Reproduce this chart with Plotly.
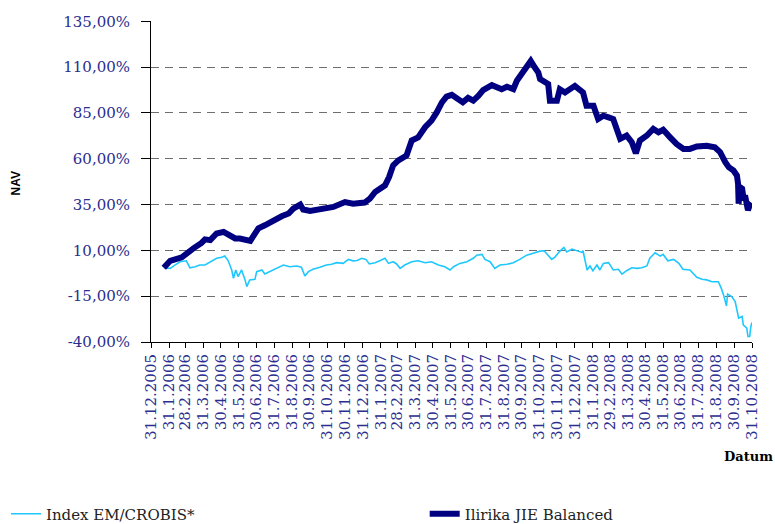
import pandas as pd
import plotly.graph_objects as go

# ---- data ----
ilirika_dates = [
    "2006-01-22", "2006-02-02", "2006-02-22", "2006-03-02", "2006-03-14", "2006-03-28",
    "2006-04-03", "2006-04-12", "2006-04-23", "2006-05-05", "2006-05-13", "2006-05-25",
    "2006-06-02", "2006-06-14", "2006-06-20", "2006-06-28", "2006-07-04", "2006-07-15",
    "2006-07-30", "2006-08-13", "2006-08-25", "2006-09-02", "2006-09-14", "2006-09-19",
    "2006-10-01", "2006-10-18", "2006-11-10", "2006-11-30", "2006-12-14", "2007-01-03",
    "2007-01-12", "2007-01-21", "2007-01-29", "2007-02-07", "2007-02-14", "2007-02-21",
    "2007-03-02", "2007-03-16", "2007-03-25", "2007-04-05", "2007-04-17", "2007-04-28",
    "2007-05-07", "2007-05-16", "2007-05-24", "2007-06-02", "2007-06-10", "2007-06-21",
    "2007-06-30", "2007-07-09", "2007-07-18", "2007-07-26", "2007-08-10", "2007-08-18",
    "2007-08-27", "2007-09-05", "2007-09-16", "2007-09-22", "2007-09-30", "2007-10-09",
    "2007-10-16", "2007-10-23", "2007-10-29", "2007-11-01", "2007-11-15", "2007-11-18",
    "2007-11-30", "2007-12-05", "2007-12-14", "2007-12-31", "2008-01-09", "2008-01-14",
    "2008-01-20", "2008-02-01", "2008-02-09", "2008-02-18", "2008-02-27", "2008-03-06",
    "2008-03-12", "2008-03-18", "2008-03-29", "2008-04-07", "2008-04-14", "2008-04-21",
    "2008-05-03", "2008-05-14", "2008-05-23", "2008-05-31", "2008-06-12", "2008-06-23",
    "2008-07-05", "2008-07-16", "2008-07-28", "2008-08-14", "2008-08-28", "2008-09-06",
    "2008-09-15", "2008-09-21", "2008-09-29", "2008-10-05", "2008-10-07", "2008-10-08",
    "2008-10-10", "2008-10-14", "2008-10-17", "2008-10-19", "2008-10-24", "2008-10-27",
    "2008-10-31",
]
ilirika_values = [
    0.5, 4.3, 6.2, 8.4, 11.1, 14.1,
    16.0, 15.6, 19.2, 20.1, 18.9, 16.5,
    16.5, 15.6, 15.2, 19.2, 22.0, 23.7,
    26.5, 28.6, 30.1, 32.8, 35.0, 32.3,
    31.5, 32.3, 33.7, 36.4, 35.5, 36.1,
    38.3, 41.9, 43.7, 45.5, 50.0, 56.4,
    59.1, 61.8, 70.0, 71.7, 77.2, 80.8,
    85.3, 90.8, 93.9, 94.9, 93.2, 90.8,
    93.2, 91.7, 94.4, 97.5, 100.2, 98.9,
    98.0, 99.3, 98.0, 102.6, 106.2, 108.9,
    113.4, 109.8, 107.1, 103.5, 100.8, 91.7,
    91.7, 98.0, 96.2, 99.8, 98.0, 96.2,
    89.0, 89.0, 81.7, 83.5, 82.6, 81.7,
    76.3, 70.9, 72.7, 69.0, 63.0, 70.0,
    72.7, 76.3, 74.5, 75.8, 71.7, 68.1,
    65.4, 65.4, 66.7, 67.1, 66.3, 63.6,
    58.2, 55.4, 53.6, 50.9, 46.4, 35.5,
    44.6, 43.7, 37.3, 40.0, 31.9, 34.6,
    33.5,
]

index_dates = [
    "2006-01-22", "2006-02-02", "2006-02-10", "2006-02-19", "2006-03-02", "2006-03-08",
    "2006-03-17", "2006-03-25", "2006-04-03", "2006-04-12", "2006-04-23", "2006-05-02",
    "2006-05-07", "2006-05-13", "2006-05-19", "2006-05-22", "2006-05-26", "2006-05-30",
    "2006-06-05", "2006-06-11", "2006-06-14", "2006-06-19", "2006-06-28", "2006-07-01",
    "2006-07-10", "2006-07-15", "2006-07-24", "2006-08-04", "2006-08-16", "2006-08-27",
    "2006-09-08", "2006-09-16", "2006-09-22", "2006-09-28", "2006-10-06", "2006-10-18",
    "2006-10-29", "2006-11-07", "2006-11-16", "2006-11-27", "2006-12-06", "2006-12-14",
    "2006-12-21", "2006-12-29", "2007-01-05", "2007-01-11", "2007-01-21", "2007-01-29",
    "2007-02-07", "2007-02-13", "2007-02-21", "2007-02-27", "2007-03-05", "2007-03-13",
    "2007-03-25", "2007-04-05", "2007-04-17", "2007-04-28", "2007-05-10", "2007-05-21",
    "2007-05-30", "2007-06-05", "2007-06-16", "2007-06-28", "2007-07-09", "2007-07-15",
    "2007-07-24", "2007-07-29", "2007-08-07", "2007-08-15", "2007-08-24", "2007-09-05",
    "2007-09-16", "2007-09-27", "2007-10-09", "2007-10-20", "2007-11-01", "2007-11-08",
    "2007-11-12", "2007-11-21", "2007-11-27", "2007-12-04", "2007-12-12", "2007-12-17",
    "2007-12-26", "2008-01-03", "2008-01-12", "2008-01-14", "2008-01-17", "2008-01-21",
    "2008-01-26", "2008-01-31", "2008-02-07", "2008-02-12", "2008-02-18", "2008-02-27",
    "2008-03-06", "2008-03-15", "2008-03-21", "2008-03-29", "2008-04-07", "2008-04-16",
    "2008-04-24", "2008-05-03", "2008-05-08", "2008-05-17", "2008-05-26", "2008-05-31",
    "2008-06-08", "2008-06-18", "2008-06-27", "2008-07-04", "2008-07-16", "2008-07-28",
    "2008-08-06", "2008-08-14", "2008-08-23", "2008-09-03", "2008-09-08", "2008-09-12",
    "2008-09-17", "2008-09-19", "2008-09-26", "2008-10-02", "2008-10-08", "2008-10-14",
    "2008-10-16", "2008-10-22", "2008-10-24", "2008-10-27", "2008-10-29", "2008-10-31",
]
index_values = [
    0.5, 0.2, 2.0, 3.8, 4.3, 0.5,
    1.1, 2.0, 2.0, 3.8, 5.7, 6.2,
    6.9, 4.3, -0.7, -5.2, -0.7, -4.3,
    -0.7, -6.1, -9.8, -6.1, -5.8, -1.6,
    -0.7, -2.9, -1.6, 0.2, 2.0, 1.1,
    1.5, 0.8, -4.0, -1.6, -0.3, 0.8,
    2.0, 2.4, 3.3, 2.9, 5.1, 4.3,
    4.5, 5.7, 5.1, 2.6, 3.3, 4.3,
    5.7, 2.9, 3.8, 2.6, 0.2, 2.0,
    3.8, 4.3, 3.3, 3.8, 2.0, 1.1,
    -0.7, 1.1, 2.9, 3.8, 5.7, 7.4,
    7.8, 5.1, 3.8, 0.2, 2.0, 2.4,
    3.3, 5.1, 7.4, 8.4, 9.6, 9.8,
    8.4, 5.1, 6.5, 9.2, 11.6, 9.2,
    10.7, 9.8, 8.9, 9.8, 4.7, -0.7,
    1.5, -1.1, 2.0, -0.7, 2.9, 3.3,
    -0.7, -0.3, -3.0, -1.1, 0.5, 0.2,
    0.5, 1.5, 5.7, 8.7, 6.9, 7.8,
    4.3, 5.1, 2.9, -0.3, -0.7, -4.7,
    -5.8, -6.1, -7.1, -7.1, -10.6, -14.3,
    -20.3, -13.8, -15.2, -17.9, -27.0, -26.1,
    -30.6, -32.4, -37.0, -37.0, -31.5, -29.3,
]

x_tick_labels = [
    "31.12.2005", "31.1.2006", "28.2.2006", "31.3.2006", "30.4.2006", "31.5.2006",
    "30.6.2006", "31.7.2006", "31.8.2006", "30.9.2006", "31.10.2006", "30.11.2006",
    "31.12.2006", "31.1.2007", "28.2.2007", "31.3.2007", "30.4.2007", "31.5.2007",
    "30.6.2007", "31.7.2007", "31.8.2007", "30.9.2007", "31.10.2007", "30.11.2007",
    "31.12.2007", "31.1.2008", "29.2.2008", "31.3.2008", "30.4.2008", "31.5.2008",
    "30.6.2008", "31.7.2008", "31.8.2008", "30.9.2008", "31.10.2008",
]
y_tick_values = [-40, -15, 10, 35, 60, 85, 110, 135]

series_names = ["Index EM/CROBIS*", "Ilirika JIE Balanced"]

# ---- figure ----
x_tick_vals = pd.to_datetime(x_tick_labels, format="%d.%m.%Y")
y_tick_text = [f"{v:.2f}".replace(".", ",") + "%" for v in y_tick_values]

fig = go.Figure()
fig.add_trace(go.Scatter(
    x=pd.to_datetime(index_dates), y=index_values, mode="lines",
    name=series_names[0], line=dict(color="#1ec8ff", width=1.6),
    legend="legend",
))
fig.add_trace(go.Scatter(
    x=pd.to_datetime(ilirika_dates), y=ilirika_values, mode="lines",
    name=series_names[1], line=dict(color="#000080", width=6),
    legend="legend2",
))

tick_font = dict(family="DejaVu Serif", size=15, color="#2a2e8f")

fig.update_xaxes(
    type="date",
    range=[x_tick_vals[0], x_tick_vals[-1]],
    tickmode="array", tickvals=x_tick_vals, ticktext=x_tick_labels,
    tickangle=-90, tickfont=tick_font,
    ticks="outside", ticklen=5, tickcolor="black",
    showline=True, linecolor="black", linewidth=1,
    showgrid=False, zeroline=False, automargin=False,
)
fig.update_yaxes(
    range=[-40, 135.2],
    tickmode="array", tickvals=y_tick_values, ticktext=y_tick_text,
    tickfont=tick_font,
    ticks="outside", ticklen=9, tickcolor="black",
    ticklabelstandoff=8,
    showline=True, linecolor="black", linewidth=1,
    showgrid=True, gridcolor="#6e6e6e", gridwidth=1, griddash="8px,6px",
    zeroline=False, automargin=False,
)

legend_font = dict(family="DejaVu Serif", size=15, color="#222222")
fig.update_layout(
    width=775, height=524,
    margin=dict(l=151, r=23, t=21, b=182, autoexpand=False),
    plot_bgcolor="white", paper_bgcolor="white",
    showlegend=True,
    legend=dict(
        orientation="h", xref="container", yref="container",
        x=0.0077, y=0.019, xanchor="left", yanchor="middle",
        font=legend_font, bgcolor="rgba(0,0,0,0)",
    ),
    legend2=dict(
        orientation="h", xref="container", yref="container",
        x=0.548, y=0.019, xanchor="left", yanchor="middle",
        font=legend_font, bgcolor="rgba(0,0,0,0)",
    ),
    annotations=[
        dict(text="<b>NAV</b>", x=-0.224, y=0.495, xref="paper", yref="paper",
             xanchor="center", yanchor="middle",
             textangle=-90, showarrow=False,
             font=dict(family="Liberation Sans", size=12, color="black")),
        dict(text="<b>Datum</b>", x=1.038, y=-0.358, xref="paper", yref="paper",
             xanchor="right", yanchor="middle", showarrow=False,
             font=dict(family="DejaVu Serif", size=13, color="black")),
    ],
)

fig.write_html("out.html", config={"displayModeBar": False},
               post_script="document.body.style.margin='0px';")
